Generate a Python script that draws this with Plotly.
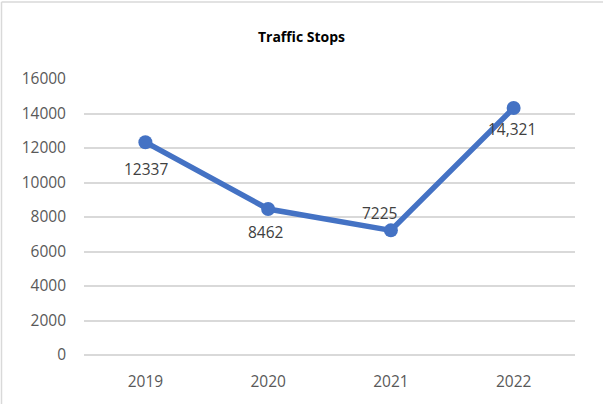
import plotly.graph_objects as go

# Annual traffic stop counts
years = ["2019", "2020", "2021", "2022"]
stops = [12337, 8462, 7225, 14321]
labels = ["12337", "8462", "7225", "14,321"]
y_ticks = [0, 2000, 4000, 6000, 8000, 10000, 12000, 14000, 16000]

# label offsets (px) relative to each point
label_dx = [1, -2, -11, -2]
label_dy = [-27, -23, 17, -21]

W, H = 603, 404
ML, MR, MT, MB = 84, 28, 79, 49
LINE_BLUE = "#4472C4"
FONT = "Open Sans, sans-serif"

fig = go.Figure()
fig.add_trace(go.Scatter(
    x=years, y=stops, mode="lines+markers",
    line=dict(color=LINE_BLUE, width=5.5),
    marker=dict(color=LINE_BLUE, size=14),
    hoverinfo="skip", showlegend=False,
))

# value labels, placed by category index
for i, (y, t, dx, dy) in enumerate(zip(stops, labels, label_dx, label_dy)):
    fig.add_annotation(x=i, y=y, xref="x", yref="y", text=t, showarrow=False,
                       xshift=dx, yshift=dy,
                       font=dict(family=FONT, size=15.5, color="#404040"))

# outer frame (top and left edges)
pw, ph = W - ML - MR, H - MT - MB
x_left = (1.5 - ML) / pw
y_top = 1 + (MT - 2) / ph
fig.add_shape(type="line", xref="paper", yref="paper",
              x0=x_left, x1=x_left, y0=-MB / ph - 0.1, y1=y_top,
              line=dict(color="#D9D9D9", width=1.5), layer="above")
fig.add_shape(type="line", xref="paper", yref="paper",
              x0=x_left, x1=1 + MR / pw, y0=y_top, y1=y_top,
              line=dict(color="#D9D9D9", width=1.5), layer="above")

fig.update_layout(
    width=W, height=H,
    margin=dict(l=ML, r=MR, t=MT, b=MB),
    paper_bgcolor="white", plot_bgcolor="white",
    title=dict(text="<b>Traffic Stops</b>", x=0.5, xanchor="center",
               y=1 - 37 / H, yanchor="middle",
               font=dict(family=FONT, size=14, color="black")),
    xaxis=dict(type="category", showgrid=False, zeroline=False,
               showline=False, ticks="", ticklabelstandoff=15,
               tickfont=dict(family=FONT, size=15.5, color="#595959"),
               range=[-0.5, 3.5]),
    yaxis=dict(range=[0, 16000], tickvals=y_ticks, tickformat="d",
               showgrid=True, gridcolor="#D9D9D9", gridwidth=1.5,
               zeroline=True, zerolinecolor="#D9D9D9", zerolinewidth=1.5,
               showline=False, ticks="", ticklabelstandoff=17,
               tickfont=dict(family=FONT, size=15.5, color="#595959")),
)

fig.write_html("out.html")
